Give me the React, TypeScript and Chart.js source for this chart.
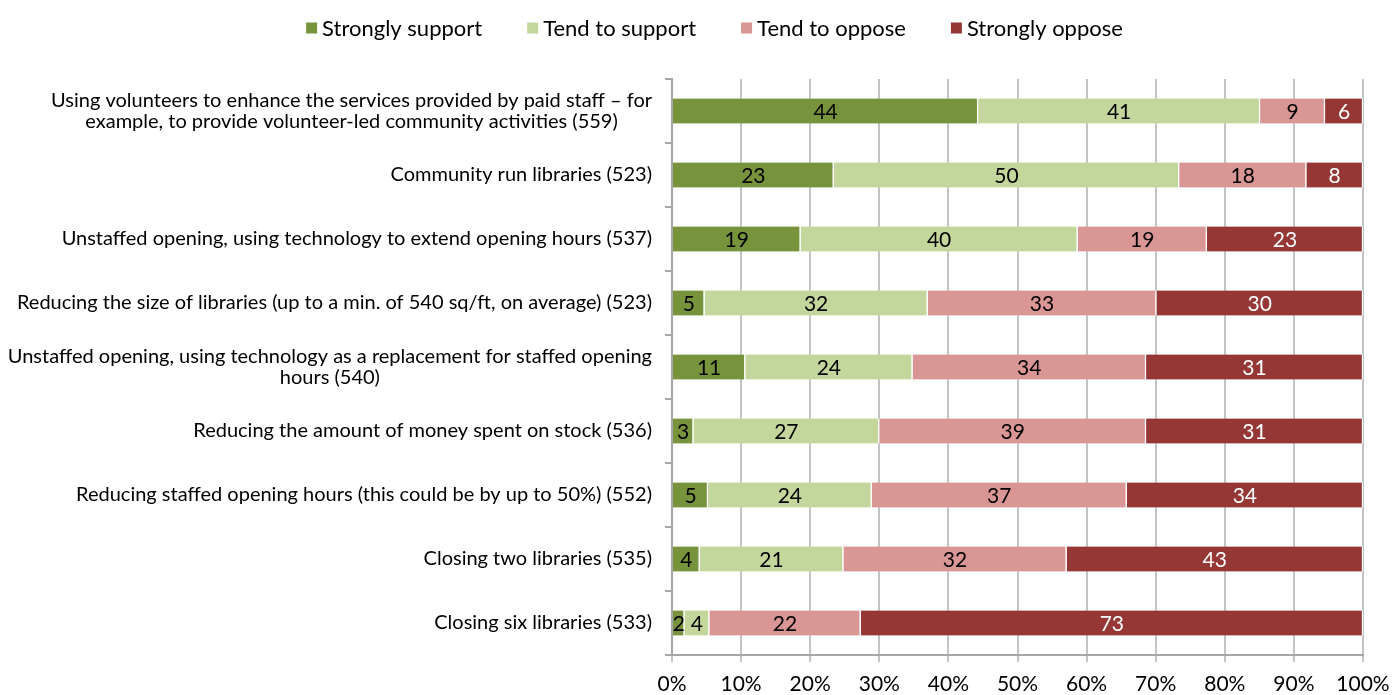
import { useEffect, useRef } from 'react';
import { Chart, registerables } from 'chart.js';

Chart.register(...registerables);

const FONT = 'Lato';

const categories: (string | string[])[] = [
  ['Using volunteers to enhance the services provided by paid staff \u2013 for', 'example, to provide volunteer-led community activities (559)'],
  'Community run libraries (523)',
  'Unstaffed opening, using technology to extend opening hours (537)',
  'Reducing the size of libraries (up to a min. of 540 sq/ft, on average) (523)',
  ['Unstaffed opening, using technology as a replacement for staffed opening', 'hours (540)'],
  'Reducing the amount of money spent on stock (536)',
  'Reducing staffed opening hours (this could be by up to 50%) (552)',
  'Closing two libraries (535)',
  'Closing six libraries (533)',
];

const seriesNames = ['Strongly support', 'Tend to support', 'Tend to oppose', 'Strongly oppose'];
const seriesColors = ['#77933C', '#C3D69B', '#D99694', '#953735'];
const labelColors = ['#000000', '#000000', '#000000', '#FFFFFF'];

const stronglySupport = [44.3, 23.4, 18.6, 4.7, 10.6, 3.1, 5.2, 4.0, 1.8];
const tendSupport = [40.8, 50.0, 40.1, 32.3, 24.2, 26.9, 23.7, 20.8, 3.6];
const tendOppose = [9.4, 18.4, 18.7, 33.1, 33.8, 38.6, 36.9, 32.3, 21.9];
const stronglyOppose = [5.5, 8.2, 22.6, 29.9, 31.4, 31.4, 34.2, 42.9, 72.7];

const xTickValues = [0, 10, 20, 30, 40, 50, 60, 70, 80, 90, 100];

export default function App() {
  const ref = useRef<HTMLCanvasElement>(null);

  useEffect(() => {
    if (!ref.current) return;

    const segLabels = {
      id: 'segLabels',
      afterDatasetsDraw(chart: any) {
        const ctx = chart.ctx;
        ctx.save();
        ctx.font = `21px ${FONT}`;
        ctx.textAlign = 'center';
        ctx.textBaseline = 'middle';
        chart.data.datasets.forEach((ds: any, di: number) => {
          const meta = chart.getDatasetMeta(di);
          meta.data.forEach((el: any, i: number) => {
            const v = ds.data[i] as number;
            const p = el.getProps(['x', 'base', 'y'], true);
            ctx.fillStyle = labelColors[di];
            ctx.fillText(String(Math.round(v)), (p.x + p.base) / 2, p.y + 1);
          });
        });
        ctx.restore();
      },
    };

    const yLabels = {
      id: 'yLabels',
      afterDraw(chart: any) {
        const s = chart.scales.y;
        const ctx = chart.ctx;
        ctx.save();
        ctx.font = `20px ${FONT}`;
        ctx.fillStyle = '#000';
        ctx.textAlign = 'center';
        ctx.textBaseline = 'middle';
        const right = s.right - 20;
        const lh = 21;
        categories.forEach((lab, i) => {
          const lines = Array.isArray(lab) ? lab : [lab];
          const w = Math.max(...lines.map((l) => ctx.measureText(l).width));
          const cx = right - w / 2;
          const y0 = s.getPixelForValue(i) - ((lines.length - 1) * lh) / 2;
          lines.forEach((l, j) => ctx.fillText(l, cx, y0 + j * lh));
        });
        ctx.restore();
      },
    };

    const topLegend = {
      id: 'topLegend',
      afterDraw(chart: any) {
        const ctx = chart.ctx;
        ctx.save();
        ctx.font = `22px ${FONT}`;
        ctx.textBaseline = 'middle';
        ctx.textAlign = 'left';
        const box = 11;
        const gap = 5;
        const itemGap = 45;
        const items = chart.data.datasets.map((d: any) => ({
          text: d.label,
          color: d.backgroundColor,
          w: box + gap + ctx.measureText(d.label).width,
        }));
        const total = items.reduce((a: number, it: any) => a + it.w, 0) + itemGap * (items.length - 1);
        let x = chart.width / 2 + 18 - total / 2;
        const y = 28;
        items.forEach((it: any) => {
          ctx.fillStyle = it.color;
          ctx.fillRect(x, y - box / 2, box, box);
          ctx.fillStyle = '#000';
          ctx.fillText(it.text, x + box + gap, y + 1);
          x += it.w + itemGap;
        });
        ctx.restore();
      },
    };

    const seriesData = [stronglySupport, tendSupport, tendOppose, stronglyOppose];

    const chart = new Chart(ref.current, {
      type: 'bar',
      data: {
        labels: categories as any,
        datasets: seriesData.map((d, i) => ({
          label: seriesNames[i],
          data: d,
          backgroundColor: seriesColors[i],
          borderColor: '#FFFFFF',
          borderWidth: { top: 0, bottom: 0, left: 0, right: 1.5 },
          borderSkipped: 'start',
          barThickness: 25,
        })),
      },
      options: {
        indexAxis: 'y',
        animation: false,
        responsive: true,
        maintainAspectRatio: false,
        layout: { padding: { top: 79, right: 30, left: 0, bottom: 0 } },
        plugins: {
          legend: { display: false },
          tooltip: { enabled: false },
        },
        scales: {
          x: {
            stacked: true,
            min: 0,
            max: 100,
            afterBuildTicks: (s: any) => {
              s.ticks = xTickValues.map((v) => ({ value: v }));
            },
            ticks: {
              callback: (v: any) => `${v}%`,
              font: { family: FONT, size: 21 },
              color: '#000',
              padding: 10,
              maxRotation: 0,
              autoSkip: false,
            },
            grid: { color: '#C4C4C4', lineWidth: 2, tickLength: 7, drawTicks: true },
            border: { color: '#A6A6A6', width: 2 },
            afterFit: (s: any) => {
              s.height = 40;
              s.paddingRight = 0;
              s.paddingLeft = 0;
            },
          },
          y: {
            stacked: true,
            offset: true,
            grid: { drawOnChartArea: false, drawTicks: true, tickLength: 7, color: '#A6A6A6', lineWidth: 2, offset: true },
            border: { color: '#A6A6A6', width: 2 },
            ticks: { display: false },
            afterFit: (s: any) => {
              s.width = 672;
            },
          },
        },
      },
      plugins: [segLabels, yLabels, topLegend],
    });

    return () => chart.destroy();
  }, []);

  return (
    <div style={{ position: 'fixed', left: 0, top: 0, width: '1393px', height: '695px', background: '#fff' }}>
      <canvas ref={ref} />
    </div>
  );
}
